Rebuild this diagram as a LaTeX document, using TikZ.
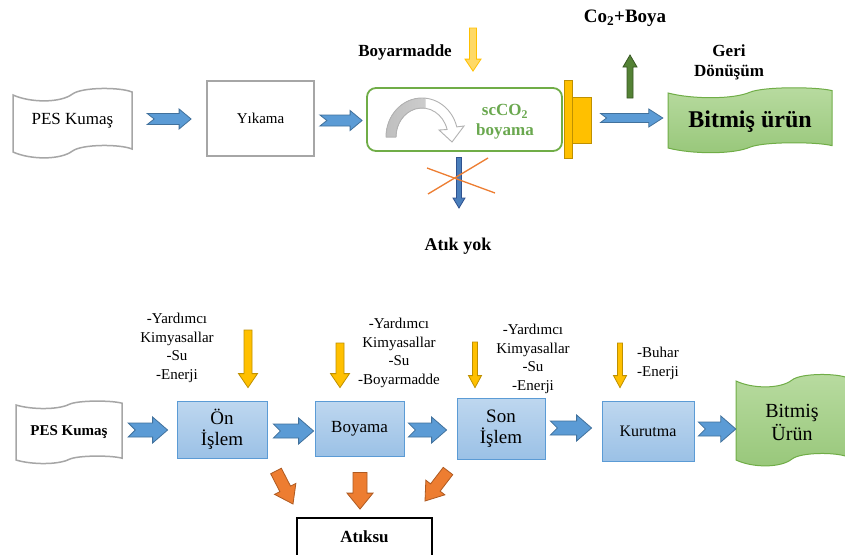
\documentclass[tikz,border=0pt]{standalone}
\usepackage{fontspec}
\setmainfont{Liberation Serif}
\usetikzlibrary{calc}
\definecolor{grayline}{RGB}{166,166,166}
\definecolor{blueF}{RGB}{91,155,213}
\definecolor{blueD}{RGB}{65,113,156}
\definecolor{orF}{RGB}{237,125,49}
\definecolor{orD}{RGB}{174,90,33}
\definecolor{goldF}{RGB}{255,192,0}
\definecolor{goldD}{RGB}{191,144,0}
\definecolor{lyF}{RGB}{255,217,102}
\definecolor{grnL}{RGB}{112,173,71}
\definecolor{grnT}{RGB}{106,168,79}
\definecolor{grnF}{RGB}{84,130,53}
\definecolor{grnD}{RGB}{56,87,35}
\definecolor{bdF}{RGB}{74,126,187}
\definecolor{bdD}{RGB}{47,82,143}
\definecolor{bxT}{RGB}{190,215,239}
\definecolor{bxB}{RGB}{155,193,230}
\definecolor{bxD}{RGB}{91,155,213}
\definecolor{bitT}{RGB}{184,219,160}
\definecolor{bitB}{RGB}{152,199,122}
\definecolor{arcG}{RGB}{191,191,191}
\newcommand\fs[2]{\fontsize{#1}{#2}\selectfont}
\tikzset{
  pics/barrow/.style n args={6}{code={%
    \path[#6] (0,-#2) -- ({#1-#4},-#2) -- ({#1-#4},-#3) -- (#1,0) -- ({#1-#4},#3) -- ({#1-#4},#2) -- (0,#2) -- (#5,0) -- cycle;}},
  pics/wave/.style n args={4}{code={%
    \path[#4] (0,0) .. controls ({0.15*#1},{8*#3}) and ({0.4*#1},{8*#3}) .. ({0.5*#1},{-1*#3})
      .. controls ({0.58*#1},{-8*#3}) and ({0.9*#1},{-8*#3}) .. (#1,{-3*#3})
      -- (#1,{#2-3*#3})
      .. controls ({0.9*#1},{#2-8*#3}) and ({0.58*#1},{#2-8*#3}) .. ({0.5*#1},{#2-1*#3})
      .. controls ({0.4*#1},{#2+8*#3}) and ({0.15*#1},{#2+8*#3}) .. (0,#2) -- cycle;}},
  lab/.style={inner sep=0pt, align=center, text=black},
  wavegray/.style={fill=white, draw=grayline, line width=1.5pt},
  wavegreen/.style={top color=bitT, bottom color=bitB, draw=grnL, line width=1pt},
  yikbox/.style={draw=grayline, line width=1.8pt, fill=white, inner sep=0pt},
  scbox/.style={draw=grnL, line width=1.8pt, rounded corners=9pt, inner sep=0pt},
  goldbox/.style={fill=goldF, draw=goldD, line width=1pt, inner sep=0pt},
  bbox/.style={top color=bxT, bottom color=bxB, draw=bxD, line width=0.8pt, inner sep=0pt, align=center},
  atbox/.style={draw=black, line width=1.8pt, fill=white, inner sep=0pt},
  bluearr/.style={fill=blueF, draw=blueD, line width=0.8pt},
  orarr/.style={fill=orF, draw=orD, line width=0.8pt},
  goldarr/.style={fill=goldF, draw=goldD, line width=0.8pt},
  lyarr/.style={fill=lyF, draw=goldF, line width=0.8pt},
  grarr/.style={fill=grnF, draw=grnD, line width=0.8pt},
  bdarr/.style={fill=bdF, draw=bdD, line width=0.8pt},
  crossline/.style={draw=orF, line width=1.3pt},
}
\newcommand\blkarrow[4]{%
  \path let \p1=(#2), \p2=(#3), \n1={atan2(\y2-\y1,\x2-\x1)}, \n2={veclen(\x2-\x1,\y2-\y1)} in
    (\p1) pic[rotate=\n1] {barrow={\n2}#4};}
\newcommand\curvpath{(386,137) arc[start angle=180, end angle=345, x radius=36, y radius=39]
  -- (464,126) -- (452,142) -- (439,130) -- (447.1,129.5)
  arc[start angle=345, end angle=180, x radius=26, y radius=29] -- cycle}
\begin{document}
\begin{tikzpicture}[x=1pt,y=-1pt]
\useasboundingbox[fill=white] (0,0) rectangle (845,554);

% ---------------- top row ----------------
\pic at (13,95) {wave={119}{57}{1}{wavegray}};
\node[lab, font=\fs{17}{20}, minimum width=119pt, minimum height=50pt] (pes1) at (72.5,121) {PES Kumaş};
\node[yikbox, minimum width=107pt, minimum height=75pt, font=\fs{15}{18}] (yik) at (260.5,118.5) {Yıkama};
\node[scbox, minimum width=195pt, minimum height=63pt] (sc) at (464.5,119.5) {};
\fill[white] \curvpath;
\begin{scope}
  \clip (380,90) rectangle (425,145);
  \fill[left color=arcG, right color=gray!30] \curvpath;
\end{scope}
\draw[draw=gray!60, line width=0.9pt] \curvpath;
\node[lab, text=grnT, font=\bfseries\fs{17}{20}] (sct) at (505,122) {scCO\textsubscript{2}\\boyama};
\node[goldbox, minimum width=19pt, minimum height=46pt] (yc2) at (581.5,120) {};
\node[goldbox, minimum width=8pt, minimum height=78pt] (yc1) at (568,119) {};
\pic at (668,93) {wave={164}{55}{0.8}{wavegreen}};
\node[lab, font=\bfseries\fs{24}{28}, minimum width=164pt, minimum height=50pt] (bit1) at (750,122) {Bitmiş ürün};

\coordinate (a1s) at ($(pes1.east)+(15,-2)$);
\coordinate (a1e) at ($(yik.west)+(-15,0.5)$);
\coordinate (a2s) at ($(yik.east)+(5,2)$);
\coordinate (a2e) at ($(sc.west)+(-4,1)$);
\coordinate (a3s) at ($(yc2.east)+(9,-2)$);
\coordinate (a3e) at ($(bit1.west)+(-5,-4)$);
\blkarrow{bluearr}{a1s}{a1e}{{5.5}{10}{12}{7}{bluearr}}
\blkarrow{bluearr}{a2s}{a2e}{{5.5}{10}{12}{7}{bluearr}}
\blkarrow{bluearr}{a3s}{a3e}{{4.5}{9}{14}{6}{bluearr}}

\coordinate (by0) at (473,28);
\coordinate (by1) at ($(sc.north)+(8.5,-16)$);
\blkarrow{lyarr}{by0}{by1}{{3.5}{8}{12}{0}{lyarr}}
\coordinate (gr0) at (630,98);
\coordinate (gr1) at (630,55);
\blkarrow{grarr}{gr0}{gr1}{{3}{7}{12}{0}{grarr}}
\coordinate (bd0) at ($(sc.south)+(-5.5,5.5)$);
\coordinate (bd1) at (459,208);
\blkarrow{bdarr}{bd0}{bd1}{{2.5}{6}{10}{0}{bdarr}}
\draw[crossline] (427,168) -- (495,193);
\draw[crossline] (428,194) -- (488,158);

\node[lab, font=\bfseries\fs{17}{20}] (lbm) at (405,52) {Boyarmadde};
\node[lab, font=\bfseries\fs{19}{22}] (lco) at (625,18) {Co\textsubscript{2}+Boya};
\node[lab, font=\bfseries\fs{17}{20}] (lgd) at (729,62) {Geri\\Dönüşüm};
\node[lab, font=\bfseries\fs{18}{20}] (lay) at (458,246) {Atık yok};

% ---------------- bottom row ----------------
\pic at (16,405) {wave={106}{55}{0.6}{wavegray}};
\node[lab, font=\bfseries\fs{15}{18}, minimum width=106pt] (pes2) at (69,432) {PES Kumaş};
\node[bbox, minimum width=90pt, minimum height=57pt, font=\fs{19}{21}] (on) at (222,429.5) {Ön\\İşlem};
\node[bbox, minimum width=89pt, minimum height=55pt, font=\fs{17}{20}] (boy) at (359.5,428.5) {Boyama};
\node[bbox, minimum width=88pt, minimum height=61pt, font=\fs{19}{21}] (son) at (501,428.5) {Son\\İşlem};
\node[bbox, minimum width=92pt, minimum height=60pt, font=\fs{16}{19}] (kur) at (648,431) {Kurutma};
\pic at (736,381) {wave={112}{79}{1}{wavegreen}};
\node[lab, font=\fs{20}{23}, minimum width=112pt] (bit2) at (792,422) {Bitmiş\\Ürün};

\coordinate (b1s) at ($(pes2.east)+(6,-2)$);
\coordinate (b1e) at ($(on.west)+(-9,0.5)$);
\coordinate (b2s) at ($(on.east)+(6,1.5)$);
\coordinate (b2e) at ($(boy.west)+(-1,2.5)$);
\coordinate (b3s) at ($(boy.east)+(4,1.5)$);
\coordinate (b3e) at ($(son.west)+(-10,1.5)$);
\coordinate (b4s) at ($(son.east)+(5,-0.5)$);
\coordinate (b4e) at ($(kur.west)+(-10,-3)$);
\coordinate (b5s) at ($(kur.east)+(4,-2)$);
\coordinate (b5e) at ($(bit2.west)+(0,7)$);
\blkarrow{bluearr}{b1s}{b1e}{{7}{13}{15}{7}{bluearr}}
\blkarrow{bluearr}{b2s}{b2e}{{7}{13}{15}{7}{bluearr}}
\blkarrow{bluearr}{b3s}{b3e}{{7}{13}{15}{7}{bluearr}}
\blkarrow{bluearr}{b4s}{b4e}{{7}{13}{15}{7}{bluearr}}
\blkarrow{bluearr}{b5s}{b5e}{{7}{13}{15}{7}{bluearr}}

\coordinate (g1s) at (248,330);
\coordinate (g1e) at ($(on.north)+(26,-13)$);
\coordinate (g2s) at (340,343);
\coordinate (g2e) at ($(boy.north)+(-19.5,-13)$);
\coordinate (g3s) at (475,342);
\coordinate (g3e) at ($(son.north)+(-26,-10)$);
\coordinate (g4s) at (620,343);
\coordinate (g4e) at ($(kur.north)+(-28,-13)$);
\blkarrow{goldarr}{g1s}{g1e}{{4}{9.5}{14}{0}{goldarr}}
\blkarrow{goldarr}{g2s}{g2e}{{4}{9.5}{14}{0}{goldarr}}
\blkarrow{goldarr}{g3s}{g3e}{{2.5}{6.5}{12}{0}{goldarr}}
\blkarrow{goldarr}{g4s}{g4e}{{2.5}{6.5}{12}{0}{goldarr}}

\node[lab, font=\fs{15}{18.5}] (l1) at (177,348) {-Yardımcı\\Kimyasallar\\-Su\\-Enerji};
\node[lab, font=\fs{15}{18.5}] (l2) at (399,353) {-Yardımcı\\Kimyasallar\\-Su\\-Boyarmadde};
\node[lab, font=\fs{15}{18.5}] (l3) at (533,359) {-Yardımcı\\Kimyasallar\\-Su\\-Enerji};
\node[lab, font=\fs{15}{18.5}, align=left, anchor=west] (l4) at (637,363.5) {-Buhar\\-Enerji};

\node[atbox, minimum width=135pt, minimum height=38pt, font=\bfseries\fs{17}{20}] (atk) at (364.5,537) {Atıksu};
\coordinate (o1s) at (276,471);
\coordinate (o1e) at (293,504);
\coordinate (o2s) at ($(boy.south)+(0.5,16)$);
\coordinate (o2e) at ($(atk.north)+(-4.5,-8)$);
\coordinate (o3s) at (448,471);
\coordinate (o3e) at (425,501);
\blkarrow{orarr}{o1s}{o1e}{{6}{12}{17}{0}{orarr}}
\blkarrow{orarr}{o2s}{o2e}{{7}{13}{16}{0}{orarr}}
\blkarrow{orarr}{o3s}{o3e}{{6}{12}{17}{0}{orarr}}
\end{tikzpicture}
\end{document}
